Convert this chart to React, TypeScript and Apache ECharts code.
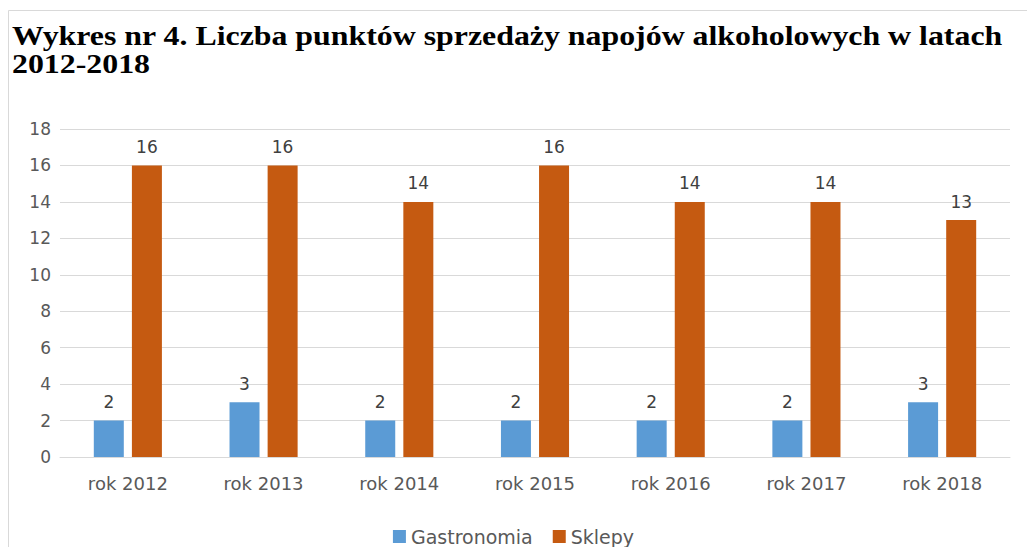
import React, { useEffect, useRef } from "react";
import * as echarts from "echarts";

const categories = ["rok 2012", "rok 2013", "rok 2014", "rok 2015", "rok 2016", "rok 2017", "rok 2018"];
const gastronomia = [2, 3, 2, 2, 2, 2, 3];
const sklepy = [16, 16, 14, 16, 14, 14, 13];
const titleLine1 = "Wykres nr 4. Liczba punktów sprzedaży napojów alkoholowych w latach";
const titleLine2 = "2012-2018";

export default function App() {
  const ref = useRef<HTMLDivElement>(null);
  useEffect(() => {
    const chart = echarts.init(ref.current!, undefined, { renderer: "svg" });
    const labelStyle = { show: true, position: "top" as const, distance: 10, color: "#404040", fontSize: 17, fontFamily: "DejaVu Sans" };
    const titleFont = { fontFamily: "Liberation Serif", fontWeight: "bold" as const, fontSize: 27, fill: "#000000" };
    chart.setOption({
      animation: false,
      backgroundColor: "#ffffff",
      graphic: [
        {
          type: "rect",
          shape: { x: 8.5, y: 10.5, width: 1030, height: 560 },
          style: { fill: "none", stroke: "#d9d9d9", lineWidth: 1 },
          silent: true,
        },
        {
          type: "text",
          x: 12,
          y: 22,
          scaleX: 1.18,
          style: { text: titleLine1, verticalAlign: "top", align: "left", ...titleFont },
          silent: true,
        },
        {
          type: "text",
          x: 12,
          y: 50,
          scaleX: 1.18,
          style: { text: titleLine2, verticalAlign: "top", align: "left", ...titleFont },
          silent: true,
        },
      ],
      legend: {
        top: 522,
        left: "center",
        itemWidth: 13,
        itemHeight: 13,
        itemGap: 20,
        icon: "rect",
        textStyle: { color: "#595959", fontSize: 19, fontFamily: "DejaVu Sans" },
        data: ["Gastronomia", "Sklepy"],
      },
      grid: { left: 60, right: 17, top: 129, bottom: 90 },
      xAxis: {
        type: "category",
        data: categories,
        axisLine: { lineStyle: { color: "#d9d9d9" } },
        axisTick: { show: false },
        axisLabel: { color: "#595959", fontSize: 18, fontFamily: "DejaVu Sans", margin: 17 },
      },
      yAxis: {
        type: "value",
        min: 0,
        max: 18,
        interval: 2,
        axisLine: { show: false },
        axisTick: { show: false },
        splitLine: { lineStyle: { color: "#d9d9d9" } },
        axisLabel: { color: "#595959", fontSize: 17, fontFamily: "DejaVu Sans", margin: 9 },
      },
      series: [
        {
          name: "Gastronomia",
          type: "bar",
          data: gastronomia,
          barWidth: 30,
          barGap: "27%",
          itemStyle: { color: "#5b9bd5" },
          label: labelStyle,
        },
        {
          name: "Sklepy",
          type: "bar",
          data: sklepy,
          barWidth: 30,
          itemStyle: { color: "#c55a11" },
          label: labelStyle,
        },
      ],
    });
    return () => chart.dispose();
  }, []);
  return <div ref={ref} style={{ position: "fixed", left: 0, top: 0, width: 1027, height: 547 }} />;
}
